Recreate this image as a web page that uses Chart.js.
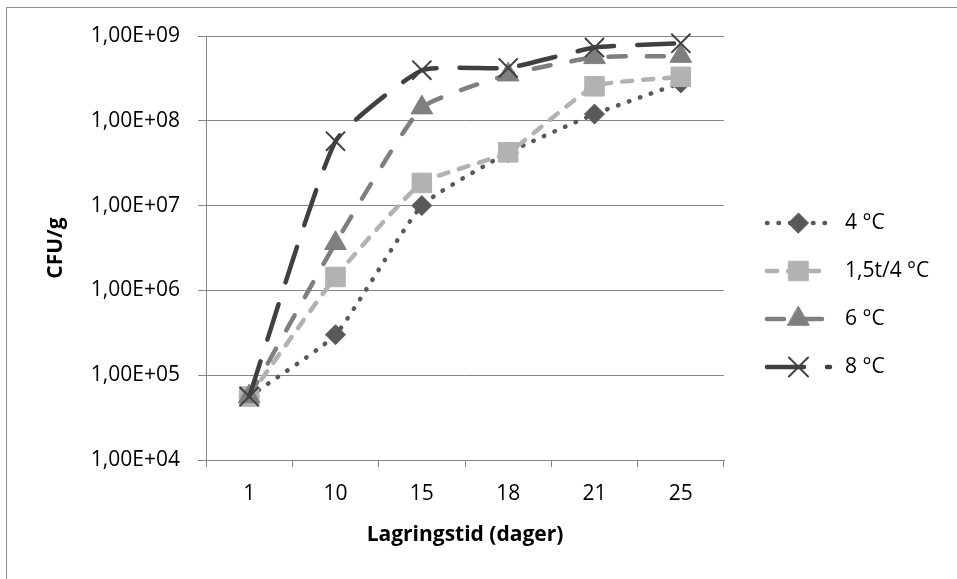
<!DOCTYPE html>
<html>
<head>
<meta charset="utf-8">
<script src="https://cdn.jsdelivr.net/npm/chart.js@4/dist/chart.umd.min.js"></script>
<style>
  html, body { margin: 0; padding: 0; background: #fff; }
  #wrap { width: 957px; height: 579px; position: relative; }
</style>
</head>
<body>
<div id="wrap"><canvas id="chart"></canvas></div>
<script>
const days = ['1', '10', '15', '18', '21', '25'];
const yTicks = [1e4, 1e5, 1e6, 1e7, 1e8, 1e9];

const temp4 = [5.6e4, 3.0e5, 1.0e7, 4.2e7, 1.2e8, 2.8e8];
const temp15t4 = [5.6e4, 1.44e6, 1.85e7, 4.25e7, 2.55e8, 3.3e8];
const temp6 = [5.6e4, 3.6e6, 1.43e8, 3.5e8, 5.6e8, 5.8e8];
const temp8 = [5.6e4, 5.75e7, 3.95e8, 4.2e8, 7.3e8, 8.2e8];

const gridGray = '#868686';
const fontFamily = '"Open Sans", Lato, sans-serif';

Chart.defaults.font.family = fontFamily;
Chart.defaults.font.size = 21;
Chart.defaults.color = '#000';

const sci = (v) => {
    const e = Math.floor(Math.log10(v) + 1e-9);
    const m = (v / Math.pow(10, e)).toFixed(2).replace('.', ',');
    return m + 'E+' + String(e).padStart(2, '0');
};

const makeSeries = (label, data, color, dash, style, radius, order) => ({
    label: label,
    data: data,
    borderColor: color,
    backgroundColor: color,
    borderWidth: 4.5,
    borderDash: dash,
    borderCapStyle: 'round',
    tension: 0.15,
    pointStyle: style,
    pointRadius: radius,
    pointHoverRadius: radius,
    pointBackgroundColor: color,
    pointBorderColor: color,
    pointBorderWidth: style === 'crossRot' ? 2 : 1,
    clip: false,
    order: order,
});

// frame round the whole chart
const framePlugin = {
    id: 'frame',
    beforeDraw(chart) {
        const ctx = chart.ctx;
        ctx.save();
        ctx.fillStyle = '#fff';
        ctx.fillRect(0, 0, chart.width, chart.height);
        ctx.strokeStyle = '#8c8c8c';
        ctx.lineWidth = 1;
        ctx.beginPath();
        ctx.moveTo(6.5, chart.height);
        ctx.lineTo(6.5, 7.5);
        ctx.lineTo(chart.width, 7.5);
        ctx.stroke();
        ctx.restore();
    }
};

// legend with line samples (dash + marker), drawn at the right
const lineLegend = {
    id: 'lineLegend',
    afterDraw(chart) {
        const ctx = chart.ctx;
        const x0 = chart.chartArea.right + 43;
        const lineLen = 63;
        const top = 223;
        const step = 48;
        chart.data.datasets.forEach((ds, i) => {
            const y = top + i * step;
            ctx.save();
            ctx.strokeStyle = ds.borderColor;
            ctx.lineWidth = ds.borderWidth;
            ctx.lineCap = 'round';
            ctx.setLineDash(ds.borderDash);
            ctx.beginPath();
            ctx.moveTo(x0, y);
            ctx.lineTo(x0 + lineLen, y);
            ctx.stroke();
            ctx.setLineDash([]);
            ctx.fillStyle = ds.pointBackgroundColor;
            ctx.strokeStyle = ds.pointBorderColor;
            ctx.lineWidth = ds.pointBorderWidth;
            Chart.helpers.drawPoint(ctx, {
                pointStyle: ds.pointStyle,
                radius: ds.pointRadius,
                borderWidth: ds.pointBorderWidth,
                rotation: 0
            }, x0 + lineLen / 2, y);
            ctx.fillStyle = '#000';
            ctx.font = '21px ' + fontFamily;
            ctx.textAlign = 'left';
            ctx.textBaseline = 'middle';
            ctx.fillText(ds.label, x0 + lineLen + 15, y);
            ctx.restore();
        });
    }
};

new Chart(document.getElementById('chart'), {
    type: 'line',
    data: {
        labels: days,
        datasets: [
            makeSeries('4 °C', temp4, '#595959', [0.5, 11], 'rectRot', 10, 4),
            makeSeries('1,5t/4 °C', temp15t4, '#b2b2b2', [10, 11], 'rect', 13.8, 3),
            makeSeries('6 °C', temp6, '#7f7f7f', [17, 21], 'triangle', 12.5, 2),
            makeSeries('8 °C', temp8, '#404040', [37, 23], 'crossRot', 13.5, 1),
        ]
    },
    options: {
        responsive: true,
        maintainAspectRatio: false,
        animation: false,
        events: [],
        layout: { padding: { left: 0, right: 233, top: 36, bottom: 0 } },
        plugins: {
            legend: { display: false },
            tooltip: { enabled: false },
        },
        scales: {
            x: {
                type: 'category',
                offset: true,
                afterFit: (scale) => { scale.height = 119; },
                grid: {
                    offset: true,
                    drawOnChartArea: false,
                    tickLength: 7,
                    color: gridGray,
                },
                border: { color: gridGray },
                ticks: { padding: 14, maxRotation: 0, autoSkip: false },
                title: {
                    display: true,
                    text: 'Lagringstid (dager)',
                    font: { weight: 'bold', size: 21 },
                    padding: { top: 0, bottom: 31 },
                },
            },
            y: {
                type: 'logarithmic',
                min: yTicks[0],
                max: yTicks[yTicks.length - 1],
                afterFit: (scale) => { scale.width = 206; },
                afterBuildTicks: (scale) => {
                    scale.ticks = yTicks.map((v) => ({ value: v }));
                },
                grid: { color: gridGray, tickLength: 8 },
                border: { color: gridGray },
                ticks: {
                    padding: 18,
                    callback: (v) => sci(v),
                },
                title: {
                    display: true,
                    text: 'CFU/g',
                    font: { weight: 'bold', size: 21 },
                    padding: { top: 43, bottom: 0 },
                },
            },
        },
    },
    plugins: [framePlugin, lineLegend],
});
</script>
</body>
</html>
